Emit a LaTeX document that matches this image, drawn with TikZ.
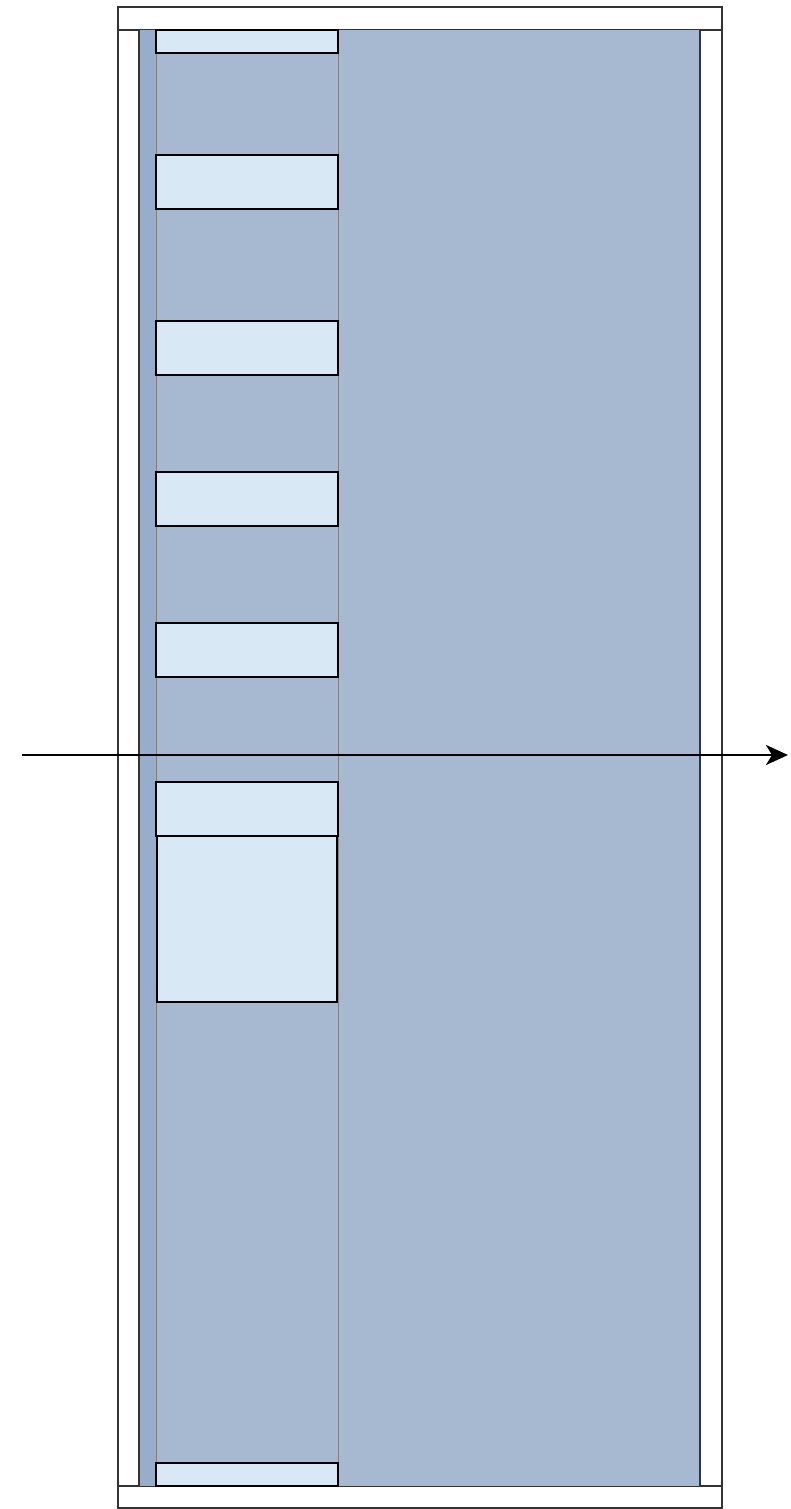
\documentclass[tikz,border=0pt]{standalone}
\usetikzlibrary{arrows.meta}
\definecolor{mainblue}{HTML}{A7B8D1}
\definecolor{darkstrip}{HTML}{98ADC9}
\definecolor{lightbox}{HTML}{D8E8F4}
\definecolor{frameline}{HTML}{333333}
\definecolor{guide}{HTML}{7F7F7F}
\tikzset{
  px/.style={x=1pt,y=-1pt},
  band/.style={draw=frameline,fill=white,line width=1.8pt},
  slot/.style={draw=black,fill=lightbox,line width=2.6pt},
  guideline/.style={draw=guide,line width=1pt},
}
\begin{document}
\begin{tikzpicture}[px]
\useasboundingbox (0,0) rectangle (790,1509);
% side white strips and bands
\draw[band] (118,30) rectangle (139,1486);
\draw[band] (700,30) rectangle (722,1486);
\draw[band] (118,7) rectangle (722,30);
\draw[band] (118,1486) rectangle (722,1508);
% blue body
\fill[mainblue] (139,30) rectangle (700,1486);
\fill[darkstrip] (139,30) rectangle (156,1486);
\draw[frameline,line width=1.8pt] (139,30) -- (139,1486);
\draw[frameline,line width=1.8pt] (700,30) -- (700,1486);
% guide lines
\draw[guideline] (156,30) -- (156,1486);
\draw[guideline] (338,30) -- (338,1486);
% slots
\draw[slot] (156,30) rectangle (338,53);
\draw[slot] (156,155) rectangle (338,209);
\draw[slot] (156,321) rectangle (338,375);
\draw[slot] (156,472) rectangle (338,526);
\draw[slot] (156,623) rectangle (338,677);
\draw[slot] (157,836) rectangle (337,1002);
\draw[slot] (156,782) rectangle (338,836);
\draw[slot] (156,1463) rectangle (338,1486);
% arrow
\coordinate (a0) at (22,755);
\coordinate (a1) at (788,755);
\draw[black,line width=2.2pt,-{Stealth[length=22pt,width=20pt,inset=6pt]}] (a0) -- (a1);
\end{tikzpicture}
\end{document}
